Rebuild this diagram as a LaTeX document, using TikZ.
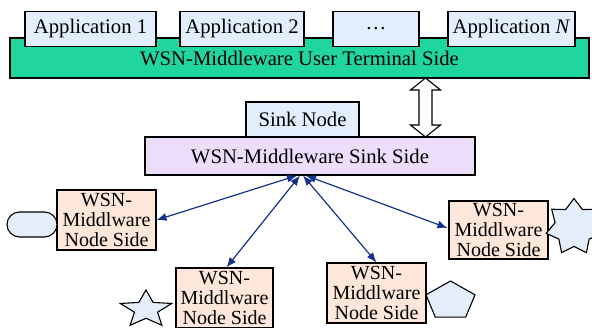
\documentclass[tikz,border=0pt]{standalone}
\usepackage{fontspec}
\setmainfont{Liberation Serif}
\usetikzlibrary{arrows.meta,calc}
\definecolor{termgreen}{RGB}{32,214,158}
\definecolor{appblue}{RGB}{226,238,252}
\definecolor{sinkpurple}{RGB}{236,222,250}
\definecolor{nodepeach}{RGB}{253,230,218}
\definecolor{linkblue}{RGB}{20,50,140}
\definecolor{shapeblue}{RGB}{228,238,250}
\begin{document}
\begin{tikzpicture}[x=1pt,y=-1pt,
  every node/.style={font=\fontsize{20.7}{20}\selectfont, inner sep=0pt},
  box/.style={draw=black, line width=1.1pt},
  appbox/.style={box, fill=appblue, minimum height=35pt},
  nodeside/.style={box, fill=nodepeach, minimum width=99pt, minimum height=60pt, align=center,
    font=\fontsize{20}{19.6}\selectfont},
  link/.style={draw=linkblue, line width=1.2pt,
    {Latex[length=10pt,width=8pt]}-{Latex[length=10pt,width=8pt]}},
  deco/.style={draw=black, line width=1.1pt, fill=shapeblue, line join=miter}]
\useasboundingbox (0,0) rectangle (592,327);

% user terminal layer with its applications
\node[box, fill=termgreen, minimum width=579pt, minimum height=40pt] (term) at (299.5,58) {WSN-Middleware User Terminal Side};
\node[appbox, minimum width=131pt] (app1) at (90.5,29) {Application 1};
\node[appbox, minimum width=124pt] (app2) at (242,29) {Application 2};
\node[appbox, minimum width=86pt]  (appd) at (376,29) {\dots};
\node[appbox, minimum width=127pt] (appN) at (511.5,29) {Application \textit{N}};

% sink layer
\node[box, fill=appblue, minimum width=113pt, minimum height=35pt] (sink) at (302.5,119.5) {Sink Node};
\node[box, fill=sinkpurple, minimum width=330pt, minimum height=38pt] (sinkside) at (310,156) {WSN-Middleware Sink Side};

% hollow double arrow between terminal and sink layers
\coordinate (ua) at (425.5,78);
\coordinate (ub) at (425.5,137);
\draw[box, fill=white, line join=miter]
  (ua) -- ++(15,12) -- ++(-8.5,0) -- ($(ub)+(6.5,-12)$) -- ++(8.5,0) -- (ub)
  -- ++(-15,-12) -- ++(8.5,0) -- ($(ua)+(-6.5,12)$) -- ++(-8.5,0) -- cycle;

% sensor node sides
\node[nodeside] (n1) at (106.5,220) {WSN-\\Middlware\\Node Side};
\node[nodeside, minimum width=97pt] (n2) at (224.5,298) {WSN-\\Middlware\\Node Side};
\node[nodeside] (n3) at (376.5,293) {WSN-\\Middlware\\Node Side};
\node[nodeside, minimum height=58pt] (n4) at (498.5,230) {WSN-\\Middlware\\Node Side};

% links from the sink side to each node side
\coordinate (h1) at ($(sinkside.south)+(-13,0)$);
\coordinate (h2) at ($(sinkside.south)+(-10,0)$);
\coordinate (h3) at ($(sinkside.south)+(-7,0)$);
\coordinate (h4) at ($(sinkside.south)+(-4,0)$);
\draw[link] (h1) -- (n1.east);
\draw[link] (h2) -- ($(n2.north)+(2,0)$);
\draw[link] (h3) -- (n3.north);
\draw[link] (h4) -- ($(n4.west)+(-1,-2)$);

% sensor symbols
\draw[deco, rounded corners=12.5pt] (7,212) rectangle (57,237);
\draw[deco] plot[samples at={0,...,9}, variable=\k]
  ({146+27*(1-0.55*mod(\k,2))*cos(90+36*\k)}, {309.5-19.5*(1-0.55*mod(\k,2))*sin(90+36*\k)}) -- cycle;
\draw[deco] plot[samples at={0,...,4}, variable=\k]
  ({450.5+25.8*cos(90+72*\k)}, {301-20*sin(90+72*\k)}) -- cycle;
\draw[deco] plot[samples at={0,...,13}, variable=\k]
  ({574+28.5*(1-0.32*mod(\k,2))*cos(90+360/14*\k)}, {227-28.5*(1-0.32*mod(\k,2))*sin(90+360/14*\k)}) -- cycle;
\end{tikzpicture}
\end{document}
